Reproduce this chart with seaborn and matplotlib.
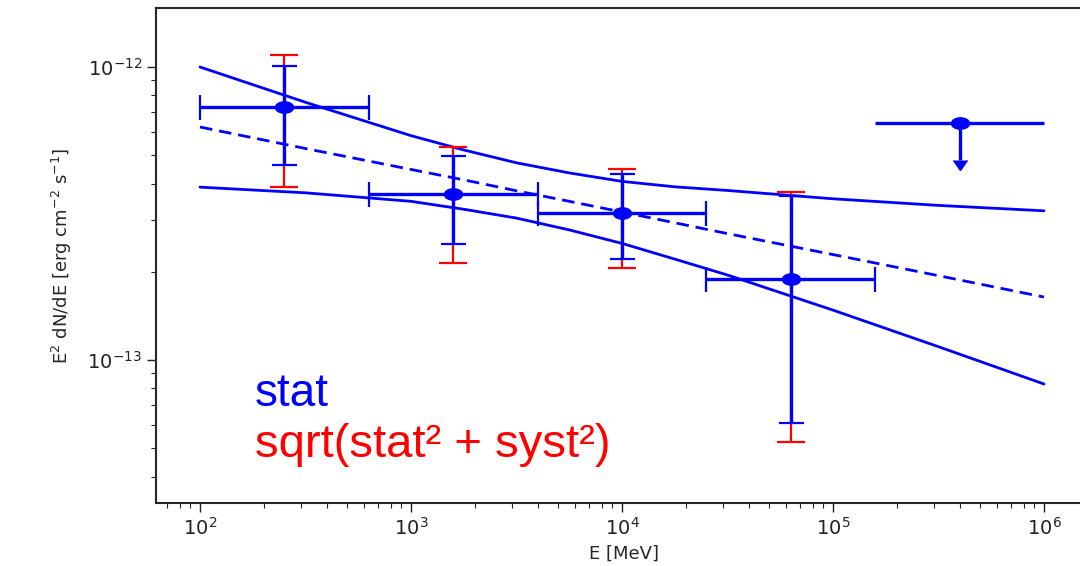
import numpy as np
import pandas as pd
import matplotlib
matplotlib.use("Agg")
import matplotlib.pyplot as plt
import seaborn as sns
from matplotlib.path import Path
from matplotlib.ticker import NullFormatter

# ---- data ----
energy_center = [251, 1585, 10000, 63096]
energy_lo = [100, 631, 3981, 25119]
energy_hi = [631, 3981, 25119, 158489]
flux = [7.32e-13, 3.69e-13, 3.17e-13, 1.886e-13]
stat_hi = [1.01e-12, 4.98e-13, 4.31e-13, 3.63e-13]
stat_lo = [4.63e-13, 2.49e-13, 2.21e-13, 6.11e-14]
tot_hi = [1.10e-12, 5.35e-13, 4.48e-13, 3.73e-13]
tot_lo = [3.88e-13, 2.14e-13, 2.06e-13, 5.24e-14]

ul_energy = [398107]
ul_lo = [158489]
ul_hi = [1000000]
ul_flux = [6.44e-13]
ul_arrow = [1.62e-13]

model_energy = [100, 316, 1000, 1778, 3162, 5623, 10000, 17783, 31623,
                100000, 316228, 1000000]
model_upper = [1.00e-12, 7.58e-13, 5.83e-13, 5.21e-13, 4.71e-13, 4.35e-13,
               4.07e-13, 3.90e-13, 3.79e-13, 3.55e-13, 3.37e-13, 3.23e-13]
model_lower = [3.89e-13, 3.72e-13, 3.48e-13, 3.27e-13, 3.05e-13, 2.78e-13,
               2.50e-13, 2.21e-13, 1.95e-13, 1.48e-13, 1.11e-13, 8.28e-14]
model_best = [6.24e-13, 5.27e-13, 4.47e-13, 4.12e-13, 3.78e-13, 3.48e-13,
              3.20e-13, 2.94e-13, 2.70e-13, 2.29e-13, 1.94e-13, 1.64e-13]

x_ticks = [1e2, 1e3, 1e4, 1e5, 1e6]
y_ticks = [1e-13, 1e-12]

x_label = "E [MeV]"
y_label = r"E$^2$ dN/dE [erg cm$^{-2}$ s$^{-1}$]"
legend_stat = "stat"
legend_tot = "sqrt(stat² + syst²)"

# ---- style ----
sns.set_style("ticks")
plt.rcParams["font.family"] = ["DejaVu Sans"]
plt.rcParams["axes.linewidth"] = 1.5
plt.rcParams["xtick.major.size"] = 6.5
plt.rcParams["ytick.major.size"] = 6.5
plt.rcParams["xtick.minor.size"] = 3.5
plt.rcParams["ytick.minor.size"] = 3.5
plt.rcParams["xtick.major.width"] = 1.0
plt.rcParams["ytick.major.width"] = 1.0
plt.rcParams["xtick.minor.width"] = 0.8
plt.rcParams["ytick.minor.width"] = 0.8

BLUE = "#0000ff"
RED = "#ff0000"

fig = plt.figure(figsize=(10.8, 5.66), dpi=100)
ax = fig.add_axes([156 / 1080, 63 / 566, 936 / 1080, 495 / 566])
ax.set_xscale("log")
ax.set_yscale("log")

df_model = pd.DataFrame({"E": model_energy, "up": model_upper,
                         "lo": model_lower, "best": model_best})
sns.lineplot(data=df_model, x="E", y="up", ax=ax, color=BLUE, lw=2.0, zorder=2)
sns.lineplot(data=df_model, x="E", y="lo", ax=ax, color=BLUE, lw=2.0, zorder=2)
sns.lineplot(data=df_model, x="E", y="best", ax=ax, color=BLUE, lw=2.0,
             dashes=(4.5, 2.5), zorder=2)

f = np.array(flux)
xc = np.array(energy_center)
xerr = [xc - np.array(energy_lo), np.array(energy_hi) - xc]
tot_err = [f - np.array(tot_lo), np.array(tot_hi) - f]
stat_err = [f - np.array(stat_lo), np.array(stat_hi) - f]

circ = Path.unit_circle()
ellipse = Path(circ.vertices * np.array([1.6, 1.0]), circ.codes)

ax.errorbar(xc, f, yerr=tot_err, fmt="none", ecolor=RED, color=RED,
            elinewidth=1.6, capsize=10, capthick=1.6, zorder=3)
ax.errorbar(xc, f, xerr=xerr, yerr=stat_err, fmt="none", ecolor=BLUE,
            color=BLUE, elinewidth=2.4, capsize=9, capthick=1.6, zorder=4)
sns.scatterplot(x=energy_center, y=flux, ax=ax, marker=ellipse, s=170,
                color=BLUE, edgecolor=BLUE, zorder=5)

ulx = np.array(ul_energy)
uly = np.array(ul_flux)
ax.errorbar(ulx, uly, xerr=[ulx - np.array(ul_lo), np.array(ul_hi) - ulx],
            fmt="none", ecolor=BLUE, color=BLUE, elinewidth=2.4, capsize=0,
            zorder=4)
ax.errorbar(ulx, uly, yerr=ul_arrow, uplims=True, fmt="none", ecolor=BLUE,
            color=BLUE, mfc=BLUE, mec=BLUE, elinewidth=2.4, capsize=5, zorder=4)
sns.scatterplot(x=ul_energy, y=ul_flux, ax=ax, marker=ellipse, s=170,
                color=BLUE, edgecolor=BLUE, zorder=5)

ax.set_xlim(10 ** (2 - 44 / 211), 10 ** (2 + 892 / 211))
ax.set_ylim(10 ** (-12 - 436 / 293), 10 ** (-12 + 59 / 293))
ax.set_xticks(x_ticks)
ax.set_yticks(y_ticks)
ax.xaxis.set_minor_formatter(NullFormatter())
ax.yaxis.set_minor_formatter(NullFormatter())

ax.set_xlabel(x_label, fontsize=13, labelpad=4)
ax.set_ylabel(y_label, fontsize=13, labelpad=10)
ax.tick_params(axis="both", which="major", labelsize=14, colors="#222222")
ax.tick_params(axis="both", which="minor", colors="#222222")
ax.spines["right"].set_visible(True)
ax.spines["top"].set_visible(True)

ax.text(0.106, 0.196, legend_stat, transform=ax.transAxes, color=BLUE,
        fontsize=33, family=["Liberation Sans", "DejaVu Sans"], va="baseline")
ax.text(0.106, 0.093, legend_tot, transform=ax.transAxes, color=RED,
        fontsize=34, family=["Liberation Sans", "DejaVu Sans"], va="baseline")

fig.savefig("out.png", dpi=100)
